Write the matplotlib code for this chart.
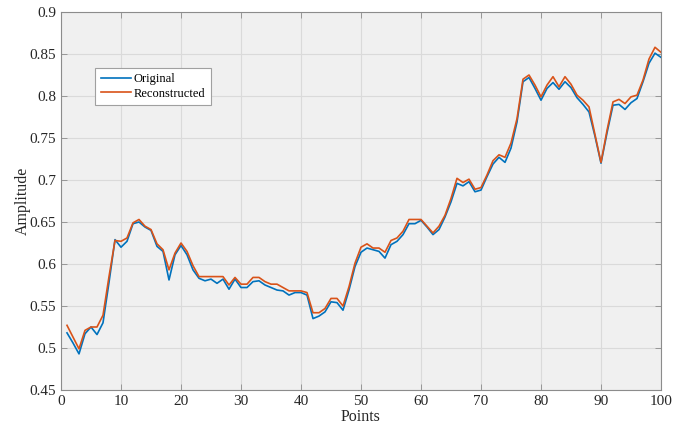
import matplotlib
matplotlib.use("Agg")
import matplotlib.pyplot as plt
import numpy as np

# values (points 1..100)
points = np.arange(1, 101)

original = [
    0.518, 0.506, 0.493, 0.517, 0.525, 0.516, 0.530, 0.578, 0.629, 0.620,
    0.627, 0.648, 0.650, 0.644, 0.640, 0.621, 0.615, 0.581, 0.611, 0.622,
    0.611, 0.593, 0.583, 0.580, 0.582, 0.577, 0.582, 0.570, 0.582, 0.572,
    0.572, 0.579, 0.580, 0.575, 0.572, 0.569, 0.568, 0.563, 0.566, 0.566,
    0.563, 0.535, 0.538, 0.543, 0.555, 0.554, 0.545, 0.569, 0.597, 0.614,
    0.619, 0.617, 0.615, 0.607, 0.623, 0.627, 0.635, 0.648, 0.648, 0.652,
    0.644, 0.635, 0.641, 0.656, 0.674, 0.696, 0.693, 0.698, 0.686, 0.688,
    0.704, 0.719, 0.727, 0.721, 0.738, 0.769, 0.817, 0.822, 0.809, 0.795,
    0.809, 0.816, 0.808, 0.817, 0.810, 0.798, 0.790, 0.781, 0.752, 0.720,
    0.756, 0.789, 0.790, 0.784, 0.792, 0.797, 0.817, 0.839, 0.851, 0.846,
]

reconstructed = [
    0.527, 0.513, 0.499, 0.521, 0.525, 0.525, 0.539, 0.585, 0.628, 0.627,
    0.631, 0.649, 0.653, 0.645, 0.641, 0.624, 0.617, 0.593, 0.613, 0.625,
    0.615, 0.598, 0.585, 0.585, 0.585, 0.585, 0.585, 0.575, 0.584, 0.576,
    0.576, 0.584, 0.584, 0.579, 0.576, 0.576, 0.572, 0.568, 0.568, 0.568,
    0.566, 0.542, 0.542, 0.547, 0.559, 0.559, 0.550, 0.573, 0.601, 0.620,
    0.624, 0.619, 0.619, 0.614, 0.628, 0.631, 0.639, 0.653, 0.653, 0.653,
    0.645, 0.637, 0.645, 0.658, 0.678, 0.702, 0.697, 0.701, 0.689, 0.691,
    0.706, 0.723, 0.730, 0.727, 0.744, 0.773, 0.820, 0.825, 0.813, 0.799,
    0.813, 0.823, 0.811, 0.823, 0.814, 0.801, 0.795, 0.787, 0.754, 0.721,
    0.759, 0.793, 0.796, 0.791, 0.799, 0.801, 0.819, 0.844, 0.858, 0.852,
]

xticks = np.arange(0, 101, 10)
yticks = np.arange(0.45, 0.901, 0.05)
ytick_labels = ["0.45", "0.5", "0.55", "0.6", "0.65", "0.7", "0.75", "0.8", "0.85", "0.9"]

plt.rcParams['font.family'] = ['Liberation Serif', 'DejaVu Serif']

fig = plt.figure(figsize=(6.86, 4.32), dpi=100)
ax = fig.add_axes([61 / 686, 1 - 390 / 432, 600 / 686, 378 / 432])
ax.set_facecolor('#f0f0f0')

ax.plot(points, original, color='#0072BD', lw=1.2, label='Original')
ax.plot(points, reconstructed, color='#D95319', lw=1.2, label='Reconstructed')

ax.set_xlim(0, 100)
ax.set_ylim(0.45, 0.9)
ax.set_xticks(xticks)
ax.set_yticks(yticks)
ax.set_yticklabels(ytick_labels)
ax.grid(True, color='#dadada', lw=0.8)
ax.set_axisbelow(True)

for s in ax.spines.values():
    s.set_color('#8c8c8c')
    s.set_linewidth(0.8)
ax.tick_params(direction='in', length=4, width=0.6, color='#8c8c8c',
               labelsize=11, labelcolor='#262626', top=True, right=True)

ax.set_xlabel('Points', fontsize=11.5, color='#262626', labelpad=1)
ax.set_ylabel('Amplitude', fontsize=11.5, color='#262626', labelpad=-1)

leg = ax.legend(loc='upper left', bbox_to_anchor=(0.057, 0.853), fontsize=9,
                fancybox=False, framealpha=1, edgecolor='#a0a0a0',
                handlelength=2.4, handletextpad=0.2, borderpad=0.45,
                labelspacing=0.2, borderaxespad=0)
leg.get_frame().set_linewidth(0.8)

fig.savefig('out.png', dpi=100)
